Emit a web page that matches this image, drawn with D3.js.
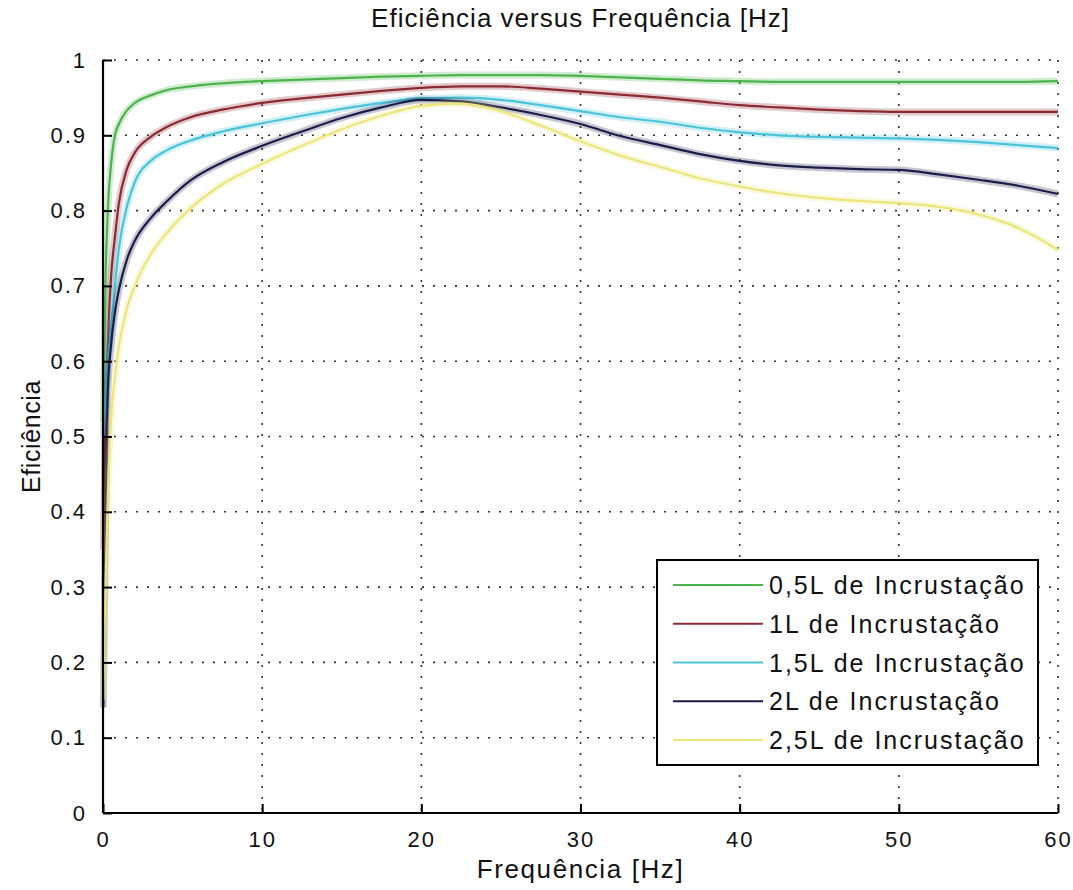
<!DOCTYPE html>
<html>
<head>
<meta charset="utf-8">
<script src="https://cdn.jsdelivr.net/npm/d3@7"></script>
<style>
  body { margin: 0; background: #fff; }
  text { font-family: "Liberation Sans", Arial, sans-serif; fill: #111; }
</style>
</head>
<body>
<div id="chart"></div>
<script>
// Frequency samples [Hz]
var freq = [0.02, 0.15, 0.3, 0.5, 0.75, 1, 1.5, 2, 3, 4, 5.5, 7.5, 10, 12.5, 15, 17.5, 20,
  22.5, 25, 27.5, 30, 32.5, 35, 37.5, 40, 42.5, 45, 47.5, 50, 52.5, 55, 57.5, 60];

// Efficiency for each fouling thickness
var eff05 = [0.52, 0.70, 0.80, 0.86, 0.90, 0.915, 0.933, 0.943, 0.953, 0.960, 0.965, 0.969, 0.972,
  0.974, 0.976, 0.978, 0.979, 0.980, 0.980, 0.980, 0.979, 0.977, 0.975, 0.973, 0.972, 0.971,
  0.971, 0.971, 0.971, 0.971, 0.971, 0.971, 0.972];
var eff1 = [0.35, 0.52, 0.62, 0.71, 0.765, 0.81, 0.855, 0.877, 0.898, 0.911, 0.924, 0.934, 0.943,
  0.949, 0.954, 0.959, 0.963, 0.965, 0.965, 0.962, 0.958, 0.954, 0.950, 0.945, 0.940, 0.937,
  0.934, 0.932, 0.931, 0.931, 0.931, 0.931, 0.931];
var eff15 = [0.50, 0.55, 0.60, 0.64, 0.70, 0.75, 0.805, 0.838, 0.866, 0.880, 0.893, 0.905, 0.916,
  0.926, 0.935, 0.943, 0.949, 0.950, 0.947, 0.940, 0.932, 0.924, 0.918, 0.910, 0.904, 0.900,
  0.898, 0.897, 0.896, 0.894, 0.891, 0.887, 0.883];
var eff2 = [0.14, 0.37, 0.56, 0.62, 0.665, 0.695, 0.735, 0.760, 0.790, 0.812, 0.840, 0.864, 0.886,
  0.905, 0.923, 0.937, 0.947, 0.945, 0.937, 0.927, 0.915, 0.899, 0.887, 0.875, 0.866, 0.860,
  0.857, 0.855, 0.854, 0.848, 0.841, 0.833, 0.822];
var eff25 = [0.15, 0.30, 0.42, 0.52, 0.58, 0.62, 0.67, 0.70, 0.742, 0.770, 0.803, 0.835, 0.862,
  0.886, 0.908, 0.926, 0.939, 0.942, 0.932, 0.913, 0.892, 0.873, 0.858, 0.843, 0.832, 0.823,
  0.817, 0.813, 0.810, 0.805, 0.795, 0.777, 0.748];

var seriesNames = ["0,5L de Incrustação", "1L de Incrustação", "1,5L de Incrustação",
  "2L de Incrustação", "2,5L de Incrustação"];
var seriesValues = [eff05, eff1, eff15, eff2, eff25];
var seriesColors = ["#4cb44c", "#8c2a34", "#4cc4d8", "#1c1c48", "#ece67c"];

var xTicks = [0, 10, 20, 30, 40, 50, 60];
var yTicks = [0, 0.1, 0.2, 0.3, 0.4, 0.5, 0.6, 0.7, 0.8, 0.9, 1];
var yTickLabels = ["0", "0.1", "0.2", "0.3", "0.4", "0.5", "0.6", "0.7", "0.8", "0.9", "1"];

var margin = {top: 60, right: 15, bottom: 77, left: 103};
var width = 1073 - margin.left - margin.right,
    height = 890 - margin.top - margin.bottom;

var svg = d3.select("#chart").append("svg")
  .attr("width", 1073)
  .attr("height", 890);

var g = svg.append("g")
  .attr("transform", "translate(" + margin.left + "," + margin.top + ")");

var x = d3.scaleLinear().domain([0, 60]).range([0, width]);
var y = d3.scaleLinear().domain([0, 1]).range([height, 0]);

// Dotted grid
g.selectAll(".gx").data(xTicks).enter().append("line")
  .attr("x1", function(d) { return x(d); })
  .attr("x2", function(d) { return x(d); })
  .attr("y1", 0).attr("y2", height)
  .attr("stroke", "#333").attr("stroke-width", 1.6)
  .attr("stroke-dasharray", "2,9");

g.selectAll(".gy").data(yTicks).enter().append("line")
  .attr("y1", function(d) { return y(d); })
  .attr("y2", function(d) { return y(d); })
  .attr("x1", 0).attr("x2", width)
  .attr("stroke", "#333").attr("stroke-width", 1.6)
  .attr("stroke-dasharray", "2,9");

// Curves
var line = d3.line()
  .x(function(d, i) { return x(freq[i]); })
  .y(function(d) { return y(d); })
  .curve(d3.curveMonotoneX);

seriesValues.forEach(function(vals, k) {
  g.append("path")
    .attr("d", line(vals))
    .attr("fill", "none")
    .attr("stroke", seriesColors[k])
    .attr("stroke-opacity", 0.25)
    .attr("stroke-width", 7);
  g.append("path")
    .attr("d", line(vals))
    .attr("fill", "none")
    .attr("stroke", seriesColors[k])
    .attr("stroke-width", 2.2);
});

// Axes (left and bottom, ticks inside)
var xAxis = d3.axisBottom(x).tickValues(xTicks).tickSize(-9).tickPadding(18)
  .tickFormat(d3.format("d"));
var yAxis = d3.axisLeft(y).tickValues(yTicks).tickSize(-9).tickPadding(16)
  .tickFormat(function(d, i) { return yTickLabels[i]; });

var gx = g.append("g")
  .attr("transform", "translate(0," + height + ")")
  .call(xAxis);
var gy = g.append("g").call(yAxis);

[gx, gy].forEach(function(ax) {
  ax.select(".domain").attr("stroke", "#000").attr("stroke-width", 2.2);
  ax.selectAll(".tick line").attr("stroke", "#000").attr("stroke-width", 2);
  ax.selectAll(".tick text")
    .style("font-family", "'Liberation Sans', Arial, sans-serif")
    .style("font-size", "22px")
    .style("letter-spacing", "2px")
    .attr("fill", "#222");
});
gy.select(".domain").attr("d", "M0," + height + "V0");
gx.select(".domain").attr("d", "M0,0H" + width);

// Title and axis labels
svg.append("text")
  .attr("x", margin.left + width / 2)
  .attr("y", 27)
  .attr("text-anchor", "middle")
  .style("font-size", "26px")
  .style("letter-spacing", "1px")
  .text("Eficiência versus Frequência [Hz]");

svg.append("text")
  .attr("x", margin.left + width / 2)
  .attr("y", 878)
  .attr("text-anchor", "middle")
  .style("font-size", "26px")
  .style("letter-spacing", "1.6px")
  .text("Frequência [Hz]");

svg.append("text")
  .attr("text-anchor", "middle")
  .attr("transform", "translate(40," + (margin.top + height / 2) + ")rotate(-90)")
  .style("font-size", "25px")
  .style("letter-spacing", "0.6px")
  .text("Eficiência");

// Legend
var legend = svg.append("g").attr("transform", "translate(657,560)");
legend.append("rect")
  .attr("width", 381).attr("height", 205)
  .attr("fill", "#fff").attr("stroke", "#000").attr("stroke-width", 2);

var rowY = d3.scaleLinear().domain([0, 4]).range([25, 180]);

seriesNames.forEach(function(name, k) {
  legend.append("line")
    .attr("x1", 16).attr("x2", 106)
    .attr("y1", rowY(k)).attr("y2", rowY(k))
    .attr("stroke", seriesColors[k]).attr("stroke-width", 2.2);
  legend.append("text")
    .attr("x", 112)
    .attr("y", rowY(k) + 9)
    .style("font-size", "25px")
    .style("letter-spacing", "2px")
    .text(name);
});
</script>
</body>
</html>
